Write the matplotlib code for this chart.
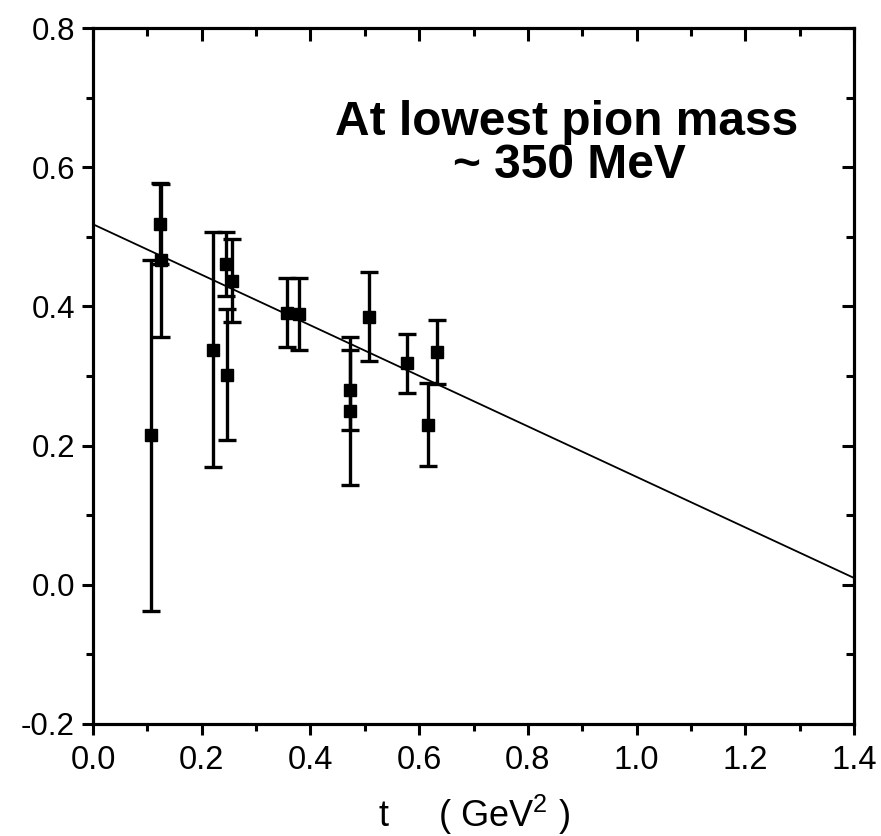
import matplotlib
matplotlib.use("Agg")
import matplotlib.pyplot as plt
import numpy as np

plt.rcParams['font.family'] = ['Liberation Sans', 'DejaVu Sans']
plt.rcParams['mathtext.fontset'] = 'custom'
plt.rcParams['mathtext.rm'] = 'Liberation Sans'
plt.rcParams['mathtext.it'] = 'Liberation Sans:italic'

# Lattice data points: momentum transfer t, value, symmetric error
t_vals = [0.106, 0.125, 0.123, 0.220, 0.244, 0.255, 0.246, 0.357, 0.379,
          0.472, 0.472, 0.508, 0.577, 0.617, 0.633]
y_vals = [0.215, 0.466, 0.519, 0.338, 0.461, 0.437, 0.302, 0.391, 0.389,
          0.280, 0.250, 0.385, 0.318, 0.230, 0.334]
y_errs = [0.252, 0.110, 0.058, 0.169, 0.046, 0.060, 0.094, 0.050, 0.052,
          0.057, 0.106, 0.064, 0.043, 0.060, 0.046]

# Linear fit
fit_intercept = 0.518
fit_slope = -0.363

x_ticks = [0.0, 0.2, 0.4, 0.6, 0.8, 1.0, 1.2, 1.4]
y_ticks = [-0.2, 0.0, 0.2, 0.4, 0.6, 0.8]

fig = plt.figure(figsize=(8.81, 8.36), dpi=100)
ax = fig.add_axes([0.1056, 0.134, 0.8638, 0.8325])

xs = np.array([0.0, 1.4])
ax.plot(xs, fit_intercept + fit_slope * xs, color='black', lw=1.3, zorder=2)

ax.errorbar(t_vals, y_vals, yerr=y_errs, fmt='s', color='black', ms=8.5,
            elinewidth=2.4, capsize=6.5, capthick=2.4, zorder=3)

ax.set_xlim(0, 1.4)
ax.set_ylim(-0.2, 0.8)
ax.set_xticks(x_ticks)
ax.set_xticklabels([f"{v:.1f}" for v in x_ticks])
ax.set_yticks(y_ticks)
ax.set_yticklabels([f"{v:.1f}" for v in y_ticks])
ax.set_xticks(np.arange(0.1, 1.4, 0.2), minor=True)
ax.set_yticks(np.arange(-0.1, 0.8, 0.2), minor=True)

for sp in ax.spines.values():
    sp.set_linewidth(2.2)

ax.tick_params(which='major', direction='out', length=8, width=2.2,
               colors='black')
ax.tick_params(axis='y', which='major', labelsize=22.5, pad=5)
ax.tick_params(axis='x', which='major', labelsize=23.5, pad=7)
ax.tick_params(which='minor', direction='out', length=5, width=2.2)

# Mirrored inward ticks on the top and right
axt = ax.twiny()
axt.set_xlim(ax.get_xlim())
axt.set_xticks(x_ticks)
axt.set_xticks(np.arange(0.1, 1.4, 0.2), minor=True)
axt.tick_params(which='major', direction='in', length=9, width=2.2, labeltop=False)
axt.tick_params(which='minor', direction='in', length=5.5, width=2.2)
axr = ax.twinx()
axr.set_ylim(ax.get_ylim())
axr.set_yticks(y_ticks)
axr.set_yticks(np.arange(-0.1, 0.8, 0.2), minor=True)
axr.tick_params(which='major', direction='in', length=9, width=2.2, labelright=False)
axr.tick_params(which='minor', direction='in', length=5.5, width=2.2)
for a in (axt, axr):
    for sp in a.spines.values():
        sp.set_linewidth(2.2)

ax.set_xlabel(r"t     ( GeV$^{2}$ )", fontsize=26, labelpad=12)

ax.text(0.872, 0.646, "At lowest pion mass", fontsize=34.5, fontweight='bold',
        ha='center', va='baseline')
ax.text(0.876, 0.584, "~ 350 MeV", fontsize=34.5, fontweight='bold',
        ha='center', va='baseline')

fig.savefig("out.png", dpi=100)
